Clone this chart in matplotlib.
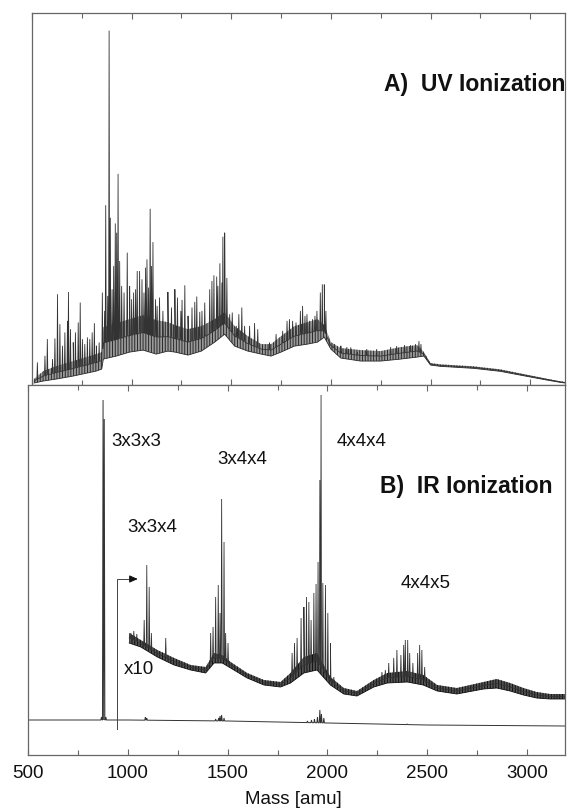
import numpy as np
import matplotlib
matplotlib.use("Agg")
import matplotlib.pyplot as plt

plt.rcParams['font.family'] = ['Liberation Sans', 'DejaVu Sans']
plt.rcParams['hatch.linewidth'] = 0.7

# ---------------- Panel A (UV ionization) ----------------
uv_env_mass = [510, 557, 623, 707, 823, 850, 858, 923, 990, 1057, 1123, 1182, 1217, 1283, 1350,
               1417, 1467, 1517, 1583, 1650, 1700, 1750, 1817, 1883, 1933, 1967, 2000, 2050,
               2150, 2250, 2350, 2433, 2467, 2500, 2550, 2717, 2850, 2983, 3083, 3150, 3175]
uv_env_low = [2, 4, 6, 9, 14, 16, 26, 29, 33, 35, 31, 34, 33, 30, 34,
              43, 51, 39, 34, 31, 29, 33, 39, 41, 43, 48, 36, 27,
              24, 24, 26, 28, 29, 20, 18.7, 16.7, 13.7, 8.7, 5, 2.7, 2]
uv_env_high = [6, 14, 19, 24, 31, 33, 58, 62, 66, 70, 65, 63, 60, 56, 59,
               66, 73, 59, 49, 41, 41, 49, 59, 63, 66, 60, 43, 37,
               35, 34, 38, 40, 33, 22, 20.7, 18.7, 15.7, 10.3, 6.3, 3.7, 3]

uv_peak_mass = [527, 565, 577, 603, 615, 628, 640, 653, 665, 678, 683, 693, 707, 718, 732, 742,
                753, 765, 778, 790, 802, 813, 823, 837, 853, 865, 870, 880, 887, 893, 902, 910,
                918, 925, 932, 940, 950, 962, 978, 990, 1000, 1010, 1020, 1028, 1040, 1052,
                1062, 1070, 1077, 1085, 1093, 1100, 1107, 1120, 1128, 1140, 1157, 1182,
                1200, 1217, 1230, 1247, 1253, 1267, 1283, 1303, 1317, 1327, 1342, 1353, 1367,
                1392, 1403, 1413, 1427, 1433, 1443, 1453, 1458, 1467, 1478, 1492, 1505, 1525,
                1538, 1553, 1567, 1592, 1617, 1633, 1692, 1725, 1758, 1780, 1792, 1808, 1825,
                1847, 1858, 1870, 1880, 1892, 1908, 1920, 1930, 1947, 1957, 1967, 1975,
                2017, 2050, 2080, 2100, 2133, 2180, 2230, 2300, 2330, 2370, 2400, 2425, 2442, 2452]
uv_peak_height = [22.7, 29.3, 46, 26, 46.7, 91, 61, 39.3, 52.7, 64.3, 93.3, 56, 42.7, 52.7, 62.7, 82.7,
                  46, 41, 47.7, 46, 52.7, 62, 39.3, 42.7, 92.7, 74.3, 180.3, 89.3, 355.3, 167.7, 96, 119.3,
                  162, 152.7, 211.7, 124.3, 99.3, 92.7, 132.7, 99.3, 86, 92.7, 96, 114.3, 114.3, 106,
                  92.7, 117.7, 126, 97.7, 176.7, 119.3, 143.3, 86, 79.3, 87.7, 74.3, 93.3,
                  77.7, 96, 87.7, 74.3, 85.3, 100, 69.3, 77.7, 83.3, 88.7, 73.3, 74.3, 82.7,
                  96, 104.3, 110, 108.7, 99.3, 122, 102.7, 148.7, 152.7, 107.3, 71, 72.7, 59.3,
                  71, 77.7, 59.3, 59.3, 62, 56, 42.7, 51, 54.3, 64.3, 66, 64.3, 62.7,
                  74.3, 79.3, 69.3, 71, 64.3, 66, 69.3, 74.3, 92.7, 101, 100.7, 74.3,
                  41, 39.3, 38, 37.7, 33, 36, 36, 38, 39, 40, 40, 41, 44, 41]

# ---------------- Panel B (IR ionization) ----------------
ir_base_mass = [505, 1000, 1500, 2000, 2500, 3190]
ir_base_height = [35, 35, 34, 32, 30, 29]
ir_peak_mass = [868, 876, 882, 890, 1088, 1095, 1440, 1455, 1462, 1470, 1482,
                1900, 1920, 1935, 1950, 1962, 1970, 1982, 2400]
ir_peak_height = [38, 355, 336, 38, 38, 37, 36, 37, 39, 40, 37,
                  34, 35, 36, 38, 45, 41, 37, 31]

x10_env_mass = [1007, 1065, 1148, 1232, 1315, 1390, 1432, 1473, 1515, 1598, 1682, 1765, 1815,
                1882, 1948, 2015, 2082, 2148, 2232, 2300, 2400, 2480, 2550, 2648, 2782, 2848,
                2915, 2982, 3048, 3115, 3190]
x10_env_low = [112, 108, 98, 90, 85, 82, 92, 92, 87, 77, 70, 68, 72,
               82, 85, 70, 61, 59, 68, 72, 73, 70, 64, 61, 66, 67,
               64, 60, 57, 56, 56]
x10_env_high = [122, 115, 105, 97, 90, 88, 102, 100, 93, 82, 75, 73, 82,
                98, 102, 78, 67, 64, 75, 82, 84, 80, 70, 67, 73, 76,
                72, 67, 63, 61, 61]
x10_peak_mass = [1015, 1030, 1045, 1082, 1095, 1107, 1118, 1190,
                 1415, 1427, 1440, 1453, 1462, 1470, 1482, 1490, 1502,
                 1823, 1835, 1848, 1868, 1882, 1895, 1907, 1918, 1932, 1943, 1953, 1962, 1968,
                 1977, 1990, 2002, 2015, 2032,
                 2273, 2290, 2307, 2332, 2348, 2368, 2382, 2390, 2402, 2412, 2428, 2452, 2462,
                 2473, 2487]
x10_peak_height = [122, 124, 121, 135, 190, 168, 122, 117,
                   122, 128, 158, 170, 142, 256, 213, 122, 112,
                   102, 112, 117, 137, 148, 158, 153, 135, 162, 171, 193, 275, 360,
                   172, 170, 142, 112, 78,
                   83, 85, 92, 97, 105, 100, 110, 115, 115, 102, 92, 102, 110,
                   105, 88]

tick_values = [500, 1000, 1500, 2000, 2500, 3000]
tick_labels = ['500', '1000', '1500', '2000', '2500', '3000']

LINE = '#333333'
SPINE = '#666666'


def spike_trace(ax, base_m, base_h, pk_m, pk_h, hw=2.5, lw=0.6, color=LINE):
    base_m = np.asarray(base_m, float)
    base_h = np.asarray(base_h, float)
    pk_m = np.asarray(pk_m, float)
    pk_h = np.asarray(pk_h, float)
    xs = [base_m]
    ys = [base_h]
    for m, h in zip(pk_m, pk_h):
        xs.append(np.array([m - hw, m, m + hw]))
        ys.append(np.array([np.interp(m - hw, base_m, base_h), h,
                            np.interp(m + hw, base_m, base_h)]))
    xs = np.concatenate(xs)
    ys = np.concatenate(ys)
    order = np.argsort(xs, kind='stable')
    ax.plot(xs[order], ys[order], color=color, lw=lw, solid_joinstyle='miter')


def band_trace(ax, env_m, low, high, pk_m, pk_h, face='#9a9a9a', hatch_color='#2a2a2a',
               hw=2.5, lw=0.6, hatch='||||||'):
    env_m = np.asarray(env_m, float)
    low = np.asarray(low, float)
    high = np.asarray(high, float)
    mid = (low + high) / 2
    spike_trace(ax, env_m, mid, pk_m, pk_h, hw=hw, lw=lw)
    ax.fill_between(env_m, low, high, facecolor=face, edgecolor=hatch_color,
                    hatch=hatch, lw=0)
    ax.plot(env_m, low, color=hatch_color, lw=0.6)


def style_axes(ax):
    for s in ax.spines.values():
        s.set_color(SPINE)
        s.set_linewidth(0.9)
    ax.set_yticks([])
    ax.set_xticks(tick_values)
    ax.set_xticks([750, 1250, 1750, 2250, 2750], minor=True)
    ax.tick_params(axis='x', which='both', direction='in', top=True, bottom=True,
                   color=SPINE, width=0.8)
    ax.tick_params(axis='x', which='major', length=4.5)
    ax.tick_params(axis='x', which='minor', length=3.5)


W, H = 568, 809
fig = plt.figure(figsize=(W / 100, H / 100), dpi=100)

# top panel: x 32..565 px, y 13..385 px
axA = fig.add_axes([32 / W, 1 - 385 / H, (565 - 32) / W, (385 - 13) / H])
axA.set_xlim(510, 3175)
axA.set_ylim(0, 373)
band_trace(axA, uv_env_mass, uv_env_low, uv_env_high, uv_peak_mass, uv_peak_height)
style_axes(axA)
axA.set_xticklabels([])
axA.text(2265, 301, 'A)  UV Ionization', fontsize=16.5, fontweight='bold',
         ha='left', va='center', color='#111111', clip_on=False)

# bottom panel: x 28..565 px, y 385..755 px
axB = fig.add_axes([28 / W, 1 - 755 / H, (565 - 28) / W, (755 - 385) / H])
axB.set_xlim(505, 3190)
axB.set_ylim(0, 370)
spike_trace(axB, ir_base_mass, ir_base_height, ir_peak_mass, ir_peak_height, hw=3, lw=0.7)
band_trace(axB, x10_env_mass, x10_env_low, x10_env_high, x10_peak_mass, x10_peak_height,
           face='#555555', hatch_color='#111111')
style_axes(axB)
axB.set_xticklabels(tick_labels)
axB.tick_params(axis='x', which='major', labelsize=13.5, pad=7, labelcolor='#111111')

# x10 arrow
axB.plot([948, 948, 1030], [26, 176, 176], color='#444444', lw=0.7)
axB.annotate('', xy=(1050, 176), xytext=(1020, 176),
             arrowprops=dict(arrowstyle='-|>,head_length=0.5,head_width=0.22',
                             color='#111111', lw=0.7, shrinkA=0, shrinkB=0))

lab_kw = dict(fontsize=13.5, ha='left', va='center', color='#111111')
axB.text(915, 313, '3x3x3', **lab_kw)
axB.text(1450, 295, '3x4x4', **lab_kw)
axB.text(1000, 228, '3x3x4', **lab_kw)
axB.text(980, 86, 'x10', **lab_kw)
axB.text(2045, 313, '4x4x4', **lab_kw)
axB.text(2365, 171, '4x4x5', **lab_kw)
axB.text(2265, 268, 'B)  IR Ionization', fontsize=16.5, fontweight='bold',
         ha='left', va='center', color='#111111')

fig.text(293 / W, 1 - 800 / H, 'Mass [amu]', fontsize=13.5, ha='center', va='center',
         color='#111111')

fig.savefig('out.png', dpi=100)
